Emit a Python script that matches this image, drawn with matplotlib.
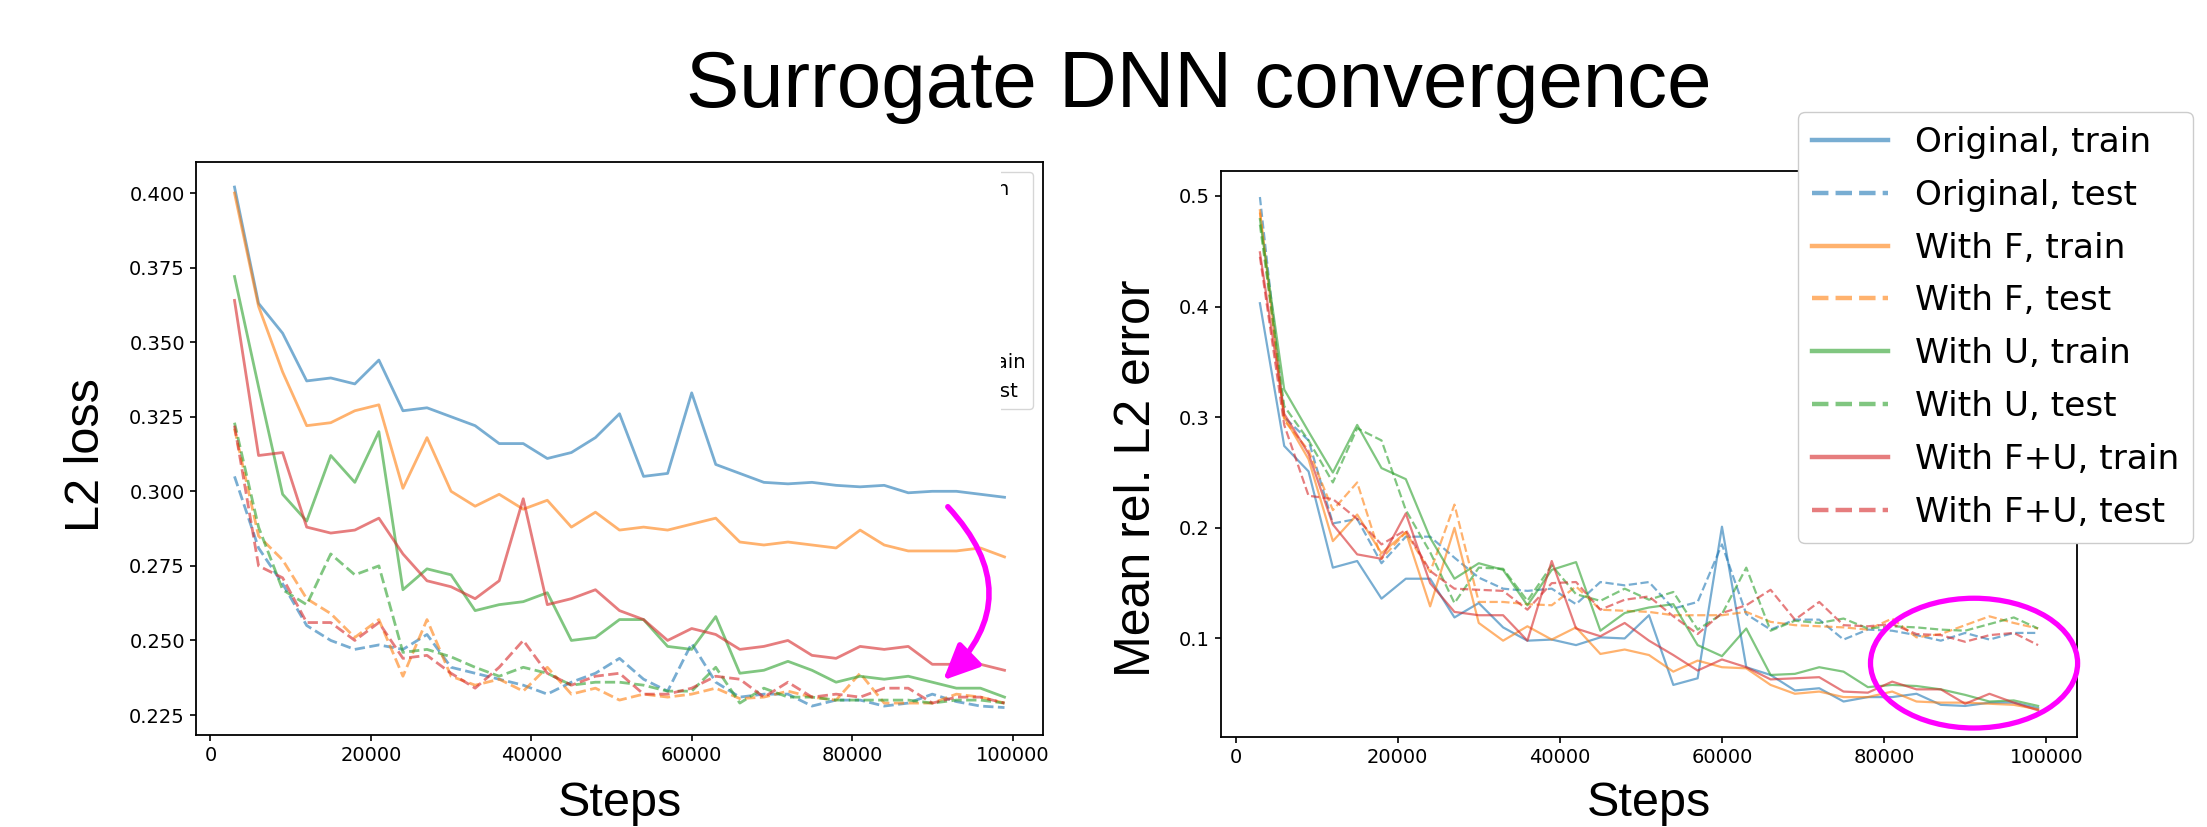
import matplotlib
matplotlib.use('Agg')
import matplotlib.pyplot as plt
from matplotlib.patches import Ellipse, Rectangle
from matplotlib.lines import Line2D
from matplotlib.ticker import MultipleLocator

# training steps (x axis)
steps = [3000, 6000, 9000, 12000, 15000, 18000, 21000, 24000, 27000, 30000, 33000,
         36000, 39000, 42000, 45000, 48000, 51000, 54000, 57000, 60000, 63000, 66000,
         69000, 72000, 75000, 78000, 81000, 84000, 87000, 90000, 93000, 96000, 99000]

labels = ['Original, train', 'Original, test', 'With F, train', 'With F, test',
          'With U, train', 'With U, test', 'With F+U, train', 'With F+U, test']

# left panel: L2 loss
loss_orig_train = [0.402, 0.363, 0.353, 0.337, 0.338, 0.336, 0.344, 0.327, 0.328, 0.325, 0.322,
                   0.316, 0.316, 0.311, 0.313, 0.318, 0.326, 0.305, 0.306, 0.333, 0.309, 0.306,
                   0.303, 0.3025, 0.303, 0.302, 0.3015, 0.302, 0.2995, 0.300, 0.300, 0.299, 0.298]
loss_orig_test = [0.305, 0.281, 0.269, 0.255, 0.250, 0.247, 0.2485, 0.247, 0.252, 0.241, 0.239,
                  0.237, 0.235, 0.232, 0.236, 0.239, 0.244, 0.237, 0.233, 0.249, 0.236, 0.231,
                  0.232, 0.232, 0.228, 0.230, 0.230, 0.228, 0.229, 0.232, 0.2295, 0.228, 0.2275]
loss_f_train = [0.400, 0.362, 0.340, 0.322, 0.323, 0.327, 0.329, 0.301, 0.318, 0.300, 0.295,
                0.299, 0.294, 0.297, 0.288, 0.293, 0.287, 0.288, 0.287, 0.289, 0.291, 0.283,
                0.282, 0.283, 0.282, 0.281, 0.287, 0.282, 0.280, 0.280, 0.280, 0.281, 0.278]
loss_f_test = [0.321, 0.285, 0.277, 0.264, 0.259, 0.251, 0.257, 0.238, 0.257, 0.238, 0.235,
               0.237, 0.233, 0.241, 0.232, 0.234, 0.230, 0.232, 0.231, 0.232, 0.234, 0.2305,
               0.231, 0.233, 0.231, 0.230, 0.239, 0.229, 0.229, 0.229, 0.232, 0.231, 0.229]
loss_u_train = [0.372, 0.335, 0.299, 0.290, 0.312, 0.303, 0.320, 0.267, 0.274, 0.272, 0.260,
                0.262, 0.263, 0.266, 0.250, 0.251, 0.257, 0.257, 0.248, 0.247, 0.258, 0.239,
                0.240, 0.243, 0.240, 0.236, 0.238, 0.237, 0.238, 0.236, 0.234, 0.234, 0.231]
loss_u_test = [0.323, 0.288, 0.267, 0.262, 0.279, 0.272, 0.275, 0.246, 0.247, 0.2445, 0.241,
               0.238, 0.241, 0.239, 0.235, 0.236, 0.236, 0.235, 0.233, 0.233, 0.241, 0.229,
               0.234, 0.231, 0.231, 0.230, 0.230, 0.230, 0.230, 0.229, 0.230, 0.230, 0.229]
loss_fu_train = [0.364, 0.312, 0.313, 0.288, 0.286, 0.287, 0.291, 0.279, 0.270, 0.268, 0.264,
                 0.270, 0.2975, 0.262, 0.264, 0.267, 0.260, 0.257, 0.250, 0.254, 0.252, 0.247,
                 0.248, 0.250, 0.245, 0.244, 0.248, 0.247, 0.248, 0.242, 0.242, 0.242, 0.240]
loss_fu_test = [0.322, 0.275, 0.271, 0.256, 0.256, 0.250, 0.256, 0.244, 0.245, 0.239, 0.234,
                0.241, 0.250, 0.239, 0.235, 0.238, 0.239, 0.232, 0.232, 0.234, 0.238, 0.237,
                0.231, 0.236, 0.231, 0.232, 0.231, 0.234, 0.234, 0.229, 0.231, 0.231, 0.229]

# right panel: mean relative L2 error
err_orig_train = [0.403, 0.274, 0.251, 0.164, 0.170, 0.136, 0.154, 0.154, 0.119, 0.132, 0.110,
                  0.098, 0.099, 0.094, 0.101, 0.100, 0.121, 0.058, 0.064, 0.201, 0.074, 0.067,
                  0.053, 0.055, 0.043, 0.047, 0.047, 0.050, 0.040, 0.039, 0.042, 0.042, 0.037]
err_orig_test = [0.499, 0.300, 0.279, 0.204, 0.208, 0.168, 0.192, 0.192, 0.173, 0.155, 0.145,
                 0.143, 0.145, 0.131, 0.151, 0.148, 0.151, 0.127, 0.133, 0.185, 0.122, 0.108,
                 0.117, 0.117, 0.099, 0.108, 0.107, 0.103, 0.098, 0.105, 0.099, 0.105, 0.105]
err_f_train = [0.487, 0.300, 0.262, 0.188, 0.212, 0.177, 0.196, 0.129, 0.200, 0.114, 0.098,
               0.111, 0.099, 0.110, 0.086, 0.090, 0.085, 0.070, 0.080, 0.074, 0.073, 0.058,
               0.050, 0.052, 0.047, 0.047, 0.052, 0.043, 0.042, 0.042, 0.041, 0.040, 0.036]
err_f_test = [0.485, 0.297, 0.270, 0.216, 0.241, 0.172, 0.196, 0.160, 0.221, 0.133, 0.133,
              0.131, 0.130, 0.147, 0.126, 0.125, 0.124, 0.121, 0.121, 0.121, 0.124, 0.115,
              0.112, 0.111, 0.110, 0.108, 0.118, 0.101, 0.104, 0.112, 0.120, 0.114, 0.109]
err_u_train = [0.479, 0.325, 0.287, 0.250, 0.293, 0.254, 0.244, 0.191, 0.154, 0.168, 0.162,
               0.130, 0.162, 0.169, 0.107, 0.123, 0.128, 0.131, 0.094, 0.084, 0.109, 0.067,
               0.068, 0.074, 0.070, 0.056, 0.058, 0.057, 0.054, 0.049, 0.043, 0.044, 0.039]
err_u_test = [0.474, 0.310, 0.279, 0.241, 0.290, 0.279, 0.216, 0.178, 0.132, 0.164, 0.163,
              0.134, 0.166, 0.140, 0.134, 0.145, 0.135, 0.142, 0.108, 0.122, 0.164, 0.107,
              0.116, 0.114, 0.118, 0.109, 0.111, 0.110, 0.108, 0.107, 0.113, 0.119, 0.109]
err_fu_train = [0.449, 0.303, 0.267, 0.203, 0.176, 0.172, 0.213, 0.150, 0.124, 0.121, 0.121,
                0.098, 0.170, 0.109, 0.102, 0.114, 0.098, 0.085, 0.071, 0.081, 0.074, 0.063,
                0.064, 0.065, 0.052, 0.051, 0.061, 0.054, 0.054, 0.041, 0.050, 0.042, 0.035]
err_fu_test = [0.445, 0.293, 0.229, 0.226, 0.208, 0.185, 0.198, 0.161, 0.145, 0.144, 0.143,
               0.126, 0.150, 0.151, 0.126, 0.135, 0.138, 0.120, 0.104, 0.123, 0.130, 0.144,
               0.117, 0.133, 0.112, 0.111, 0.113, 0.104, 0.103, 0.097, 0.103, 0.105, 0.094]

loss_series = [loss_orig_train, loss_orig_test, loss_f_train, loss_f_test,
               loss_u_train, loss_u_test, loss_fu_train, loss_fu_test]
err_series = [err_orig_train, err_orig_test, err_f_train, err_f_test,
              err_u_train, err_u_test, err_fu_train, err_fu_test]
colors = ['tab:blue', 'tab:blue', 'tab:orange', 'tab:orange',
          'tab:green', 'tab:green', 'tab:red', 'tab:red']
styles = ['-', '--'] * 4

W, H = 2207, 827
fig = plt.figure(figsize=(W / 100, H / 100), dpi=100)
ax1 = fig.add_axes([196 / W, 1 - 735 / H, 847 / W, 573 / H])
ax2 = fig.add_axes([1221 / W, 1 - 736.7 / H, 856 / W, 566 / H])

for y, c, ls, lab in zip(loss_series, colors, styles, labels):
    ax1.plot(steps, y, color=c, ls=ls, lw=2.0, alpha=0.6, label=lab)
for y, c, ls, lab in zip(err_series, colors, styles, labels):
    ax2.plot(steps, y, color=c, ls=ls, lw=1.6, alpha=0.6, label=lab)

ax1.set_xlim(-1800, 103800)
ax1.set_ylim(0.2183, 0.4104)
ax2.set_xlim(-1800, 103800)
ax2.set_ylim(0.0112, 0.5228)

for ax in (ax1, ax2):
    ax.xaxis.set_major_locator(MultipleLocator(20000))
    ax.tick_params(labelsize=14, length=4.5, width=1.2)
    for s in ax.spines.values():
        s.set_linewidth(1.3)
ax1.yaxis.set_major_locator(MultipleLocator(0.025))
ax2.yaxis.set_major_locator(MultipleLocator(0.1))

lab_font = 'Liberation Sans'
ax1.set_ylabel('L2 loss', fontsize=35, family=lab_font, va='center')
ax1.yaxis.set_label_coords(-0.1287, 0.489)
ax1.set_xlabel('Steps', fontsize=35, family=lab_font, va='baseline')
ax1.xaxis.set_label_coords(0.5, -0.141)
ax2.set_ylabel('Mean rel. L2 error', fontsize=36, family=lab_font, va='center')
ax2.yaxis.set_label_coords(-0.0981, 0.456)
ax2.set_xlabel('Steps', fontsize=35, family=lab_font, va='baseline')
ax2.xaxis.set_label_coords(0.5, -0.140)

# left legend, mostly hidden behind a white block (as on the slide)
ax1.legend(loc='upper right', fontsize=14.2)
ax1.add_patch(Rectangle((0.6, 0.56), 0.3504, 0.435, transform=ax1.transAxes,
                        facecolor='white', edgecolor='none', zorder=6))

# big legend for the right panel
handles = [Line2D([], [], color=c, ls=ls, lw=3.2, alpha=0.6) for c, ls in zip(colors, styles)]
fig.legend(handles, labels, loc='upper right', bbox_to_anchor=(2193 / W, 1 - 112 / H),
           borderaxespad=0, fontsize=24.7, handlelength=2.2, framealpha=1,
           labelspacing=0.58)

# annotations
ax1.annotate('', xy=(91090, 0.2360), xytext=(91700, 0.2955),
             arrowprops=dict(arrowstyle='-|>,head_length=1.2,head_width=0.55',
                             mutation_scale=18, color='#ff00ff', lw=4,
                             connectionstyle='arc3,rad=-0.5'))
ax2.add_patch(Ellipse((91100, 0.0777), 25550, 0.1173, fill=False, edgecolor='#ff00ff',
                      lw=3.8, clip_on=False, zorder=5))

fig.text(1199 / W, 1 - 107 / H, 'Surrogate DNN convergence', ha='center', va='baseline',
         fontsize=57.5, family=lab_font)

fig.savefig('out.png', dpi=100)
